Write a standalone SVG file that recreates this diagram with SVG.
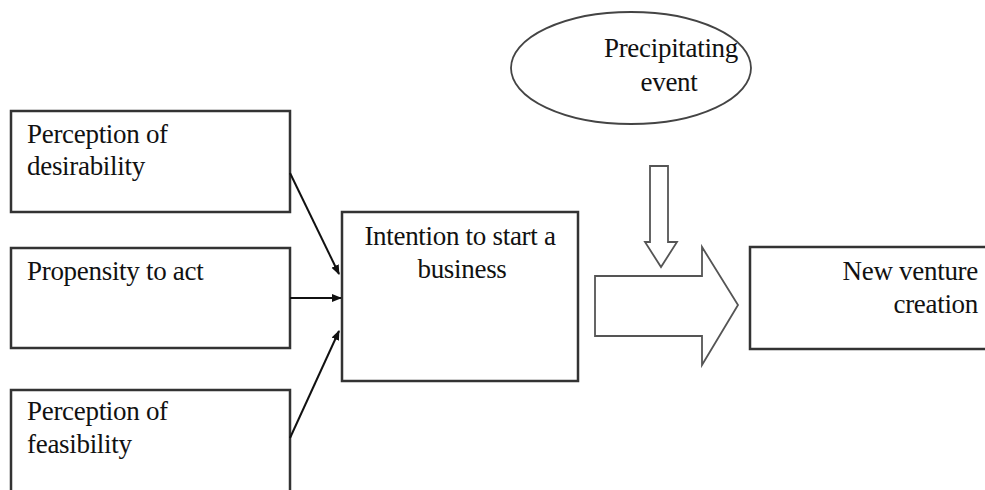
<svg xmlns="http://www.w3.org/2000/svg" width="985" height="490" viewBox="0 0 985 490">
<style>
.box{fill:#fff;stroke:#333;stroke-width:2.5}
.t{font-size:27px;fill:#111;letter-spacing:-0.3px}
.c{text-anchor:middle}
.r{text-anchor:end}
.con{stroke:#111;stroke-width:2;fill:none}
.hollow{fill:#fff;stroke:#555;stroke-width:1.8}
</style>
<defs>
<marker id="ah" markerWidth="10" markerHeight="10" refX="9" refY="5" orient="auto" markerUnits="userSpaceOnUse">
<path d="M0,1 L10,5 L0,9 Z" fill="#111"/>
</marker>
</defs>
<rect width="985" height="490" fill="#fff"/>
<g font-family="'Liberation Serif', 'DejaVu Serif', 'Times New Roman', serif">
<g id="desirability">
<rect class="box" x="11" y="111" width="279" height="101"/>
<text class="t" x="27" y="143">Perception of</text>
<text class="t" x="27" y="175">desirability</text>
</g>
<g id="propensity">
<rect class="box" x="11" y="248" width="279" height="100"/>
<text class="t" x="27" y="280">Propensity to act</text>
</g>
<g id="feasibility">
<rect class="box" x="11" y="390" width="279" height="110"/>
<text class="t" x="27" y="420">Perception of</text>
<text class="t" x="27" y="453">feasibility</text>
</g>
<g id="intention">
<rect class="box" x="342" y="212" width="236" height="169"/>
<text class="t c" x="460" y="245">Intention to start a</text>
<text class="t c" x="462" y="278">business</text>
</g>
<g id="event">
<ellipse cx="631" cy="68" rx="120" ry="56" fill="#fff" stroke="#444" stroke-width="1.8"/>
<text class="t c" x="671" y="57">Precipitating</text>
<text class="t c" x="669" y="91">event</text>
</g>
<g id="venture">
<rect class="box" x="750" y="247" width="250" height="102"/>
<text class="t r" x="978" y="280">New venture</text>
<text class="t r" x="978" y="313">creation</text>
</g>
</g>
<g id="connectors">
<line class="con" x1="290" y1="173" x2="339" y2="274" marker-end="url(#ah)"/>
<line class="con" x1="290" y1="298" x2="341" y2="298" marker-end="url(#ah)"/>
<line class="con" x1="290" y1="438" x2="339" y2="331" marker-end="url(#ah)"/>
<path class="hollow" d="M650,166 L668,166 L668,242 L677,242 L661,267 L645,242 L650,242 Z"/>
<path class="hollow" d="M595,276 L702,276 L702,247 L738,305 L702,365 L702,336 L595,336 Z"/>
</g>
</svg>
